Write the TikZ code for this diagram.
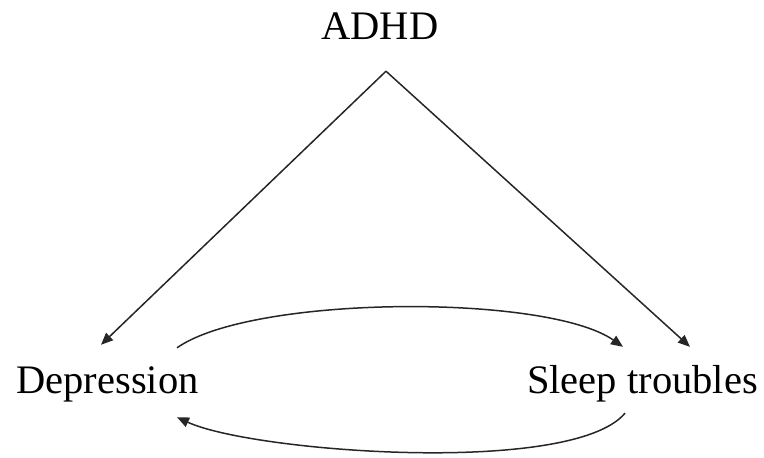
\documentclass[tikz,border=0pt]{standalone}
\usepackage{fontspec}
\setmainfont{Liberation Serif}
\usetikzlibrary{arrows.meta,positioning}
\begin{document}
\begin{tikzpicture}[x=1pt,y=-1pt,>={Triangle[length=12pt,width=10pt]},
 texto/.style={font=\fontsize{40.5}{48}\selectfont,inner sep=0pt,text height=28pt,text depth=9pt,anchor=base},
 flecha/.style={->,line width=1.5pt,draw=black!85}]
\useasboundingbox (0,0) rectangle (764,458);
\node[texto] (adhd) at (380,39) {ADHD};
\node[texto] (depresion) at (107.5,393) {Depression};
\node[texto] (sueno) at (642.5,393) {Sleep troubles};
\coordinate (vertice) at ([xshift=6pt,yshift=-23pt]adhd.south);
\coordinate (llegadaA) at ([xshift=-6.5pt,yshift=20pt]depresion.north);
\coordinate (llegadaB) at ([xshift=47.5pt,yshift=18pt]sueno.north);
\coordinate (arribaA) at ([xshift=69.5pt,yshift=17pt]depresion.north);
\coordinate (arribaB) at ([xshift=-19.5pt,yshift=18pt]sueno.north);
\coordinate (abajoB) at ([xshift=-17.5pt,yshift=-11pt]sueno.south);
\coordinate (abajoA) at ([xshift=69.5pt,yshift=-15pt]depresion.south);
\draw[flecha] (vertice)--(llegadaA);
\draw[flecha] (vertice)--(llegadaB);
\draw[flecha] (arribaA) to[out=35,in=145,looseness=0.53] (arribaB);
\draw[flecha] (abajoB) to[out=230,in=335,looseness=0.47] (abajoA);
\end{tikzpicture}
\end{document}
